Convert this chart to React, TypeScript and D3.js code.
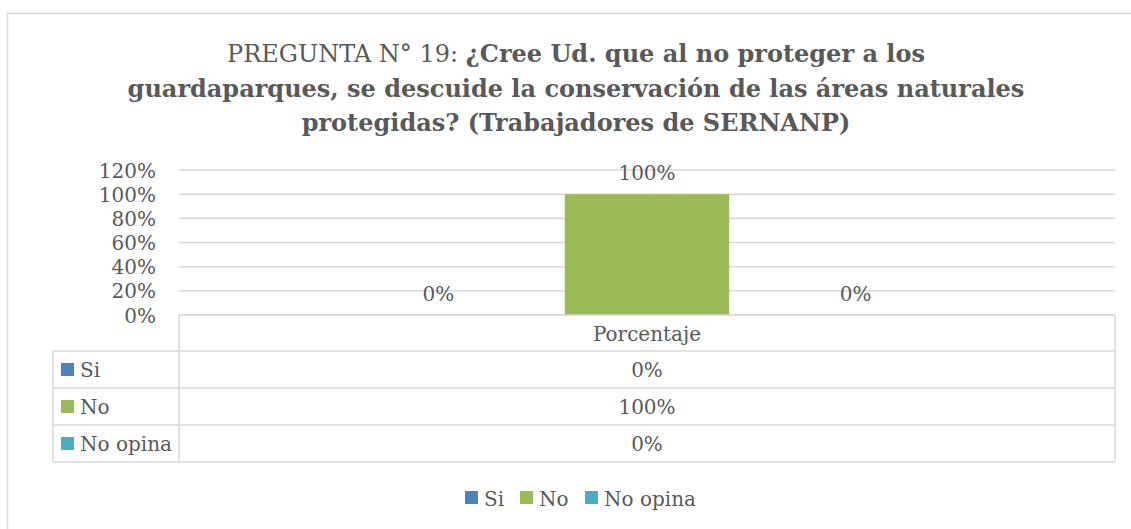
import React from "react";
import { scaleLinear, scaleBand } from "d3";

const series = ["Si", "No", "No opina"];
const values = [0, 1, 0];
const colors = ["#4F81BD", "#9BBB59", "#4BACC6"];
const category = "Porcentaje";
const yTicks = [0, 0.2, 0.4, 0.6, 0.8, 1.0, 1.2];

const FONT = "'DejaVu Serif', serif";
const TEXT = "#595959";
const GRID = "#D9D9D9";
const FS = 20;

const fmt = (v: number) => Math.round(v * 100) + "%";

function App() {
  const width = 1131;
  const height = 529;
  const plot = { left: 179, right: 1115, top: 170, bottom: 315 };
  const rowH = 37;

  const y = scaleLinear().domain([0, 1.2]).range([plot.bottom, plot.top]);
  const x = scaleBand<string>()
    .domain(series)
    .range([plot.left, plot.right])
    .paddingInner(0.2115)
    .paddingOuter(0.85);

  const tableTop = plot.bottom;
  const tableLeft = 53;
  const headerBottom = tableTop + 36;

  return (
    <svg width={width} height={height} style={{ position: "absolute", left: 0, top: 0 }} fontFamily={FONT}>
      <rect x={0} y={0} width={width} height={height} fill="#fff" />
      <rect x={7.5} y={13.5} width={1140} height={540} fill="none" stroke={GRID} strokeWidth={1.5} />

      {/* title */}
      <text x={576} textAnchor="middle" fill={TEXT} fontSize={24}>
        <tspan x={576} y={62}>PREGUNTA N° 19: <tspan fontWeight="bold">¿Cree Ud. que al no proteger a los</tspan></tspan>
        <tspan x={576} y={97} fontWeight="bold">guardaparques, se descuide la conservación de las áreas naturales</tspan>
        <tspan x={576} y={131} fontWeight="bold">protegidas? (Trabajadores de SERNANP)</tspan>
      </text>

      {/* gridlines */}
      {yTicks.map((t) => (
        <g key={t}>
          <line x1={plot.left} x2={plot.right} y1={y(t)} y2={y(t)} stroke={GRID} strokeWidth={1.5} />
          <text x={156} y={y(t)} dy="0.38em" textAnchor="end" fill={TEXT} fontSize={FS}>{fmt(t)}</text>
        </g>
      ))}

      {/* bars */}
      {series.map((s, i) => (
        <g key={s}>
          <rect x={x(s)} y={y(values[i])} width={x.bandwidth()} height={plot.bottom - y(values[i])} fill={colors[i]} />
          <text
            x={(x(s) as number) + x.bandwidth() / 2}
            y={y(values[i]) - 14}
            textAnchor="middle"
            fill={TEXT}
            fontSize={FS}
          >{fmt(values[i])}</text>
        </g>
      ))}

      {/* data table */}
      <g stroke={GRID} strokeWidth={1.5} fill="none">
        <line x1={plot.left} x2={plot.right} y1={tableTop} y2={tableTop} />
        <line x1={plot.left} x2={plot.left} y1={tableTop} y2={headerBottom + rowH * 3} />
        <line x1={plot.right} x2={plot.right} y1={tableTop} y2={headerBottom + rowH * 3} />
        <line x1={tableLeft} x2={tableLeft} y1={headerBottom} y2={headerBottom + rowH * 3} />
        {[0, 1, 2, 3].map((r) => (
          <line key={r} x1={tableLeft} x2={plot.right} y1={headerBottom + rowH * r} y2={headerBottom + rowH * r} />
        ))}
      </g>
      <text x={(plot.left + plot.right) / 2} y={(tableTop + headerBottom) / 2} dy="0.38em" textAnchor="middle" fill={TEXT} fontSize={FS}>{category}</text>
      {series.map((s, i) => {
        const cy = headerBottom + rowH * i + rowH / 2;
        return (
          <g key={s}>
            <rect x={61} y={cy - 6.5} width={13} height={13} fill={colors[i]} />
            <text x={80} y={cy} dy="0.38em" fill={TEXT} fontSize={FS}>{s}</text>
            <text x={(plot.left + plot.right) / 2} y={cy} dy="0.38em" textAnchor="middle" fill={TEXT} fontSize={FS}>{fmt(values[i])}</text>
          </g>
        );
      })}

      {/* legend */}
      {series.map((s, i) => {
        const lx = [465, 520, 585][i];
        return (
          <g key={s}>
            <rect x={lx} y={491} width={13} height={13} fill={colors[i]} />
            <text x={lx + 19} y={498} dy="0.38em" fill={TEXT} fontSize={FS}>{s}</text>
          </g>
        );
      })}
    </svg>
  );
}

export default App;
